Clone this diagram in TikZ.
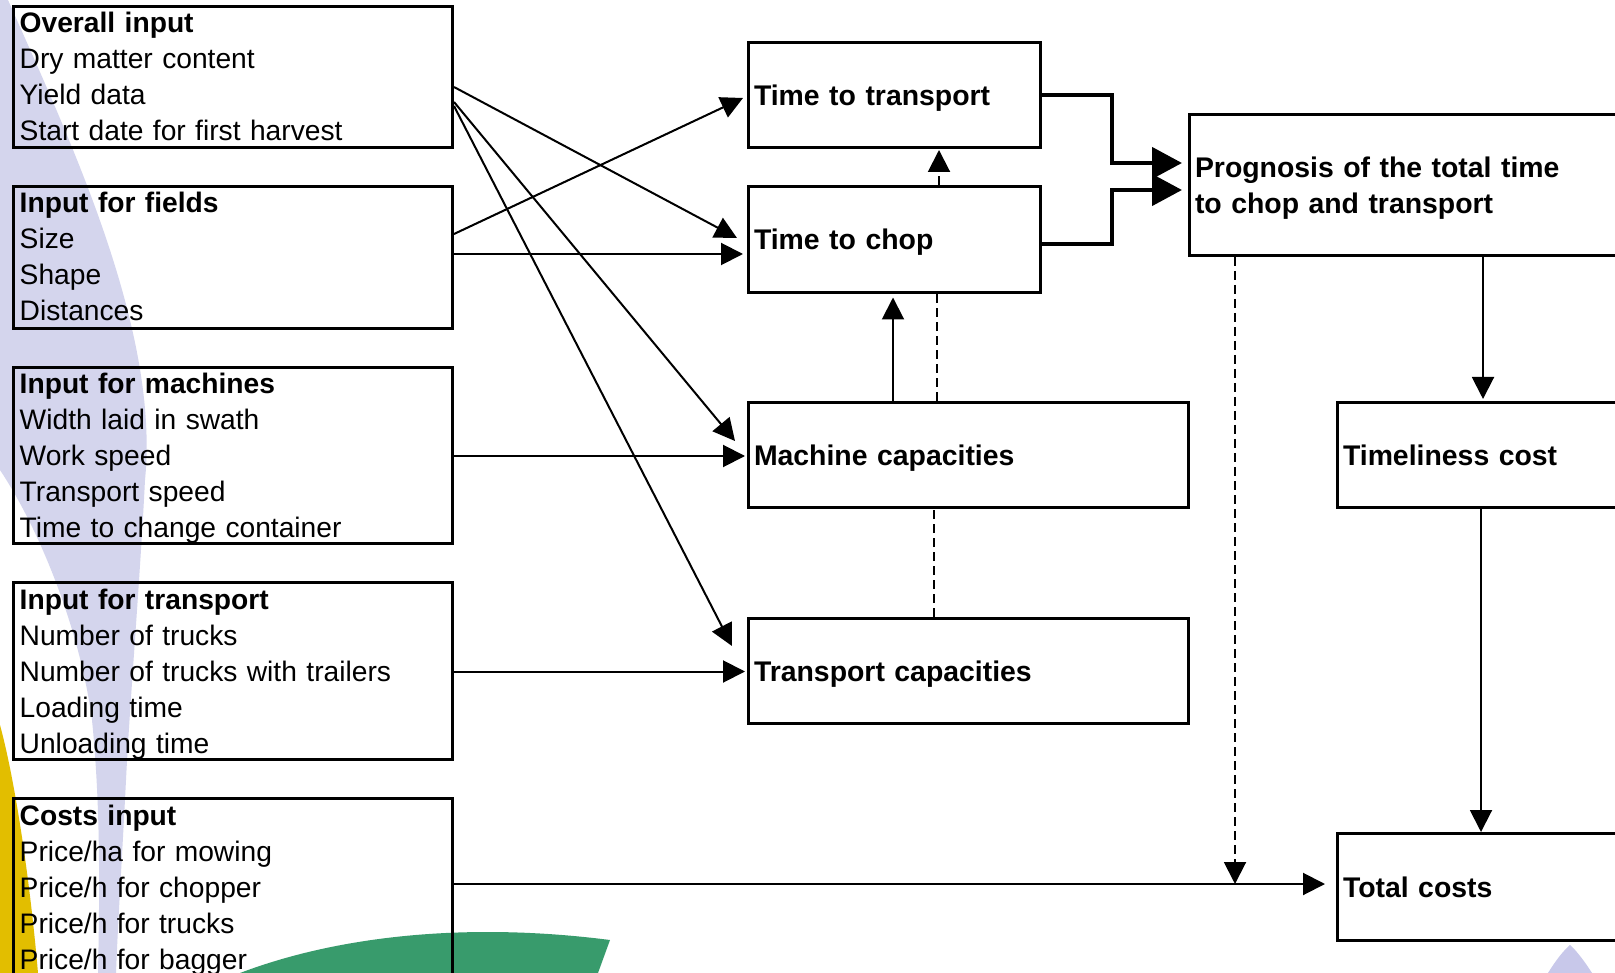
\documentclass[tikz,border=0pt]{standalone}
\usepackage{fontspec}
\setmainfont{Liberation Sans}
\usetikzlibrary{arrows.meta,calc}

\definecolor{swoosh}{RGB}{212,213,237}
\definecolor{swooshdeep}{RGB}{200,200,234}
\definecolor{leafyellow}{RGB}{226,190,0}
\definecolor{leafgreen}{RGB}{56,155,108}

\tikzset{
  basefont/.style={font={\fontsize{28.2}{36}\selectfont}},
  frame/.style={draw=black, line width=3pt, anchor=north west, inner sep=0pt},
  inframe/.style={frame},
  infotext/.style={basefont, align=left, text width=430pt, inner sep=0pt, anchor=base west},
  resultbox/.style={frame, font={\fontsize{28.4}{36}\selectfont\bfseries},
    align=left, inner xsep=5.5pt, inner ysep=0pt, text height=20.4pt, text depth=0pt},
  conn/.style={line width=2pt},
  dashconn/.style={line width=2pt, dash pattern=on 9pt off 5pt},
  heavyconn/.style={line width=4.5pt},
  tip/.style={-{Triangle[length=22pt,width=22pt]}},
  bigtip/.style={-{Triangle[length=30pt,width=31pt]}},
}

\begin{document}
\begin{tikzpicture}[x=1pt,y=-1pt]
\useasboundingbox (0,0) rectangle (1615,973);
\clip (0,0) rectangle (1615,973);
\fill[white] (0,0) rectangle (1615,973);

% decorative background leaves
\fill[swoosh] (0,0) -- (8,0) .. controls (70,140) and (160,330) .. (145,480)
  .. controls (140,580) and (130,700) .. (126,780)
  .. controls (122,860) and (118,920) .. (116,973) -- (98,973)
  .. controls (100,880) and (100,800) .. (92,720)
  .. controls (80,630) and (40,530) .. (0,470) -- cycle;
\fill[leafyellow] (0,725) .. controls (15,780) and (30,880) .. (38,973) -- (0,973) -- cycle;
\fill[leafgreen] (240,973) .. controls (340,935) and (470,922) .. (610,940) -- (598,973) -- cycle;
\fill[swooshdeep] (1548,973) .. controls (1556,960) and (1564,950) .. (1570,945)
  .. controls (1576,950) and (1585,962) .. (1592,973) -- cycle;

% input boxes (anchored at their outer edges)
\node[inframe, minimum width=439pt, minimum height=141pt] (oi) at (12,5) {};
\node[inframe, minimum width=439pt, minimum height=142pt] (fi) at (12,185) {};
\node[inframe, minimum width=439pt, minimum height=176pt] (mi) at (12,366) {};
\node[inframe, minimum width=439pt, minimum height=177pt] (ti) at (12,581) {};
\node[inframe, minimum width=439pt, minimum height=200pt] (ci) at (12,797) {};

\node[infotext] (oit) at ($(oi.north west)+(7.5,28)$)
  {\textbf{Overall input}\\Dry matter content\\Yield data\\Start date for first harvest};
\node[infotext] (fit) at ($(fi.north west)+(7.5,28)$)
  {\textbf{Input for fields}\\Size\\Shape\\Distances};
\node[infotext] (mit) at ($(mi.north west)+(7.5,28)$)
  {\textbf{Input for machines}\\Width laid in swath\\Work speed\\Transport speed\\Time to change container};
\node[infotext] (tit) at ($(ti.north west)+(7.5,28)$)
  {\textbf{Input for transport}\\Number of trucks\\Number of trucks with trailers\\Loading time\\Unloading time};
\node[infotext] (cit) at ($(ci.north west)+(7.5,28)$)
  {\textbf{Costs input}\\Price/ha for mowing\\Price/h for chopper\\Price/h for trucks\\Price/h for bagger};

% result boxes
\node[resultbox, minimum width=292pt, minimum height=105pt, text width=281pt] (ttr) at (747,41) {Time to transport};
\node[resultbox, minimum width=292pt, minimum height=106pt, text width=281pt] (chop) at (747,185) {Time to chop};
\node[resultbox, minimum width=440pt, minimum height=105pt, text width=429pt] (mach) at (747,401) {Machine capacities};
\node[resultbox, minimum width=440pt, minimum height=105pt, text width=429pt] (tcap) at (747,617) {Transport capacities};
\node[resultbox, minimum width=450pt, minimum height=141pt, text width=439pt, text depth=36pt] (prog) at (1188,113)
  {Prognosis of the total time\\to chop and transport};
\node[resultbox, minimum width=302pt, minimum height=105pt, text width=291pt] (time) at (1336,401) {Timeliness cost};
\node[resultbox, minimum width=302pt, minimum height=107pt, text width=291pt] (tot) at (1336,832) {Total costs};

\coordinate (merge) at (1235,884);

% inputs to calculations
\draw[conn,tip] (oi.east |- 0,87) -- ($(chop.west)+(-10,-1.5)$);
\draw[conn,tip] (oi.east |- 0,102) -- ($(mach.west)+(-12,-14)$);
\draw[conn,tip] (oi.east |- 0,106) -- ($(tcap.west)+(-15,-25)$);
\draw[conn,tip] (fi.east |- 0,234) -- ($(ttr.west)+(-4,3)$);
\draw[conn,tip,shorten >=4pt] (fi.east |- 0,254) -- (chop.west |- 0,254);
\draw[conn,tip,shorten >=2pt] (mi.east |- 0,456) -- (mach.west |- 0,456);
\draw[conn,tip,shorten >=2pt] (ti.east |- 0,671.5) -- (tcap.west |- 0,671.5);
\draw[conn,tip,shorten >=11pt] (ci.east |- merge) -- (tot.west |- merge);

% links between calculations
\draw[dashconn,tip,shorten >=1pt] (chop.north -| 939,0) -- (ttr.south -| 939,0);
\draw[conn,tip,shorten >=3.5pt] (mach.north -| 893,0) -- (chop.south -| 893,0);
\draw[dashconn] (mach.north -| 937,0) -- (chop.south -| 937,0);
\draw[dashconn] (tcap.north -| 934,0) -- (mach.south -| 934,0);

\draw[heavyconn,bigtip,shorten >=6pt] (ttr.east) -| (1112,163) -- (prog.west |- 0,163);
\draw[heavyconn,bigtip,shorten >=6pt] (chop.east |- 0,244) -| (1112,190) -- (prog.west |- 0,190);

% results to costs
\draw[dashconn,tip] (prog.south -| merge) -- (merge);
\draw[conn,tip,shorten >=2pt] (prog.south -| 1483,0) -- (time.north -| 1483,0);
\draw[conn,tip] (time.south -| 1481,0) -- (tot.north -| 1481,0);
\end{tikzpicture}
\end{document}
